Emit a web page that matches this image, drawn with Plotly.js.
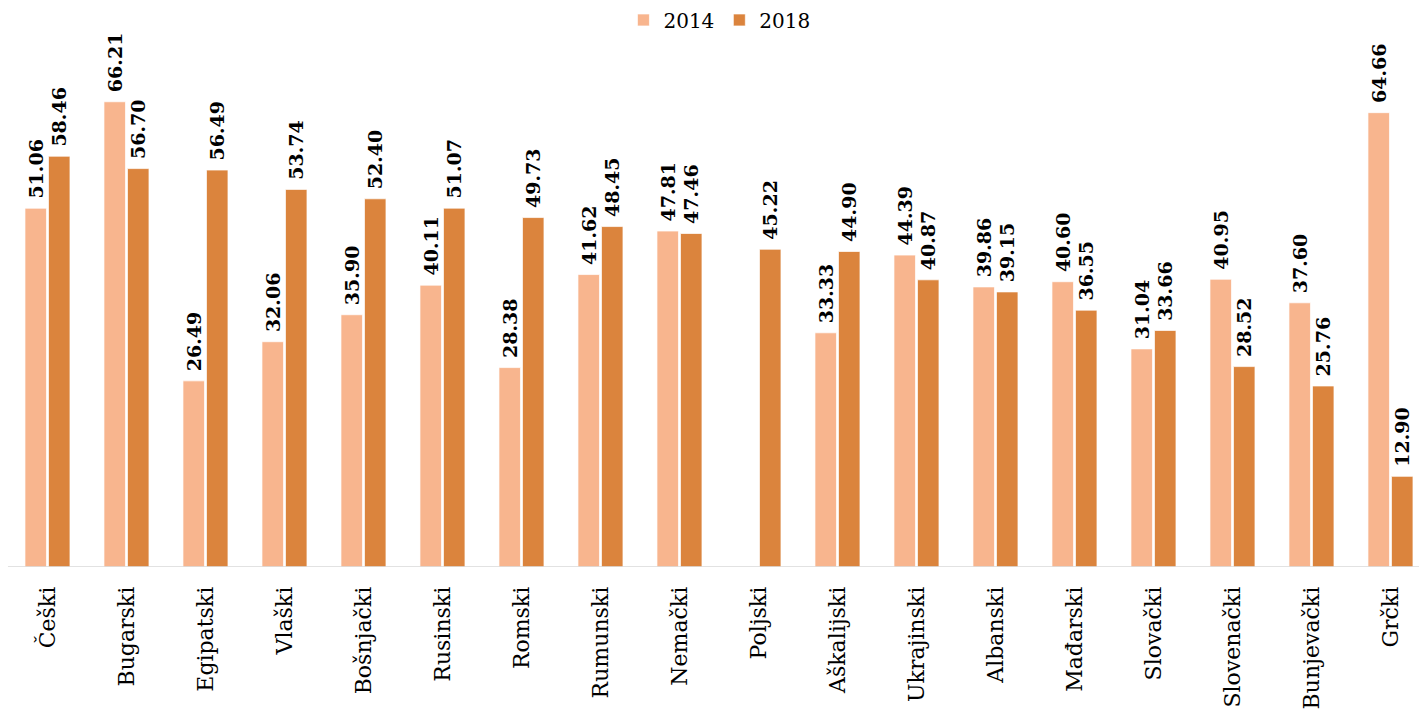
<!DOCTYPE html>
<html>
<head>
<meta charset="utf-8">
<script src="https://cdn.plot.ly/plotly-3.0.1.min.js"></script>
<style>
  html, body { margin: 0; padding: 0; background: #fff; }
  #grafica { width: 1419px; height: 713px; }
</style>
</head>
<body>
<div id="grafica"></div>
<script>
const jezici = ['Češki', 'Bugarski', 'Egipatski', 'Vlaški', 'Bošnjački', 'Rusinski', 'Romski', 'Rumunski',
  'Nemački', 'Poljski', 'Aškalijski', 'Ukrajinski', 'Albanski', 'Mađarski', 'Slovački', 'Slovenački',
  'Bunjevački', 'Grčki'];
const vrednosti2014 = [51.06, 66.21, 26.49, 32.06, 35.90, 40.11, 28.38, 41.62, 47.81, null, 33.33, 44.39,
  39.86, 40.60, 31.04, 40.95, 37.60, 64.66];
const vrednosti2018 = [58.46, 56.70, 56.49, 53.74, 52.40, 51.07, 49.73, 48.45, 47.46, 45.22, 44.90, 40.87,
  39.15, 36.55, 33.66, 28.52, 25.76, 12.90];

const fontOznake = { family: 'DejaVu Serif', size: 19, color: '#000', weight: 'bold' };

function serija(ime, y, boja) {
  return {
    x: jezici,
    y: y,
    name: ime,
    type: 'bar',
    marker: { color: boja, line: { color: 'rgba(255,255,255,0.7)', width: 1 } },
    // razmak (nbsp) ispred broja odmice oznaku od vrha stubica
    text: y.map(v => (v === null ? '' : '\u00a0' + v.toFixed(2))),
    textposition: 'outside',
    textangle: -90,
    constraintext: 'none',
    textfont: fontOznake,
    cliponaxis: false,
    hoverinfo: 'x+y'
  };
}

const data = [
  serija('2014', vrednosti2014, '#F8B58E'),
  serija('2018', vrednosti2018, '#DB843D')
];

const layout = {
  width: 1419,
  height: 713,
  margin: { l: 0, r: 0, t: 40, b: 146 },
  paper_bgcolor: '#fff',
  plot_bgcolor: '#fff',
  barmode: 'group',
  bargap: 0.405,
  bargroupgap: 0.085,
  showlegend: true,
  legend: {
    orientation: 'h', x: 0.507, xanchor: 'center', y: 1.075, yanchor: 'top',
    font: { family: 'DejaVu Serif', size: 20, color: '#000' },
    traceorder: 'normal'
  },
  xaxis: {
    type: 'category',
    range: [-0.601, 17.361],
    tickangle: -90,
    tickfont: { family: 'DejaVu Serif', size: 22, color: '#000' },
    showline: false,
    showgrid: false,
    ticks: 'outside',
    ticklen: 10,
    tickcolor: 'rgba(0,0,0,0)'
  },
  yaxis: {
    range: [0, 75],
    visible: false,
    showgrid: false,
    zeroline: false
  },
  shapes: [{
    type: 'line', xref: 'paper', yref: 'y', x0: 0.0056, x1: 1, y0: 0, y1: 0,
    line: { color: '#d9d9d9', width: 1.5 }
  }]
};

Plotly.newPlot('grafica', data, layout, { displayModeBar: false });
</script>
</body>
</html>
